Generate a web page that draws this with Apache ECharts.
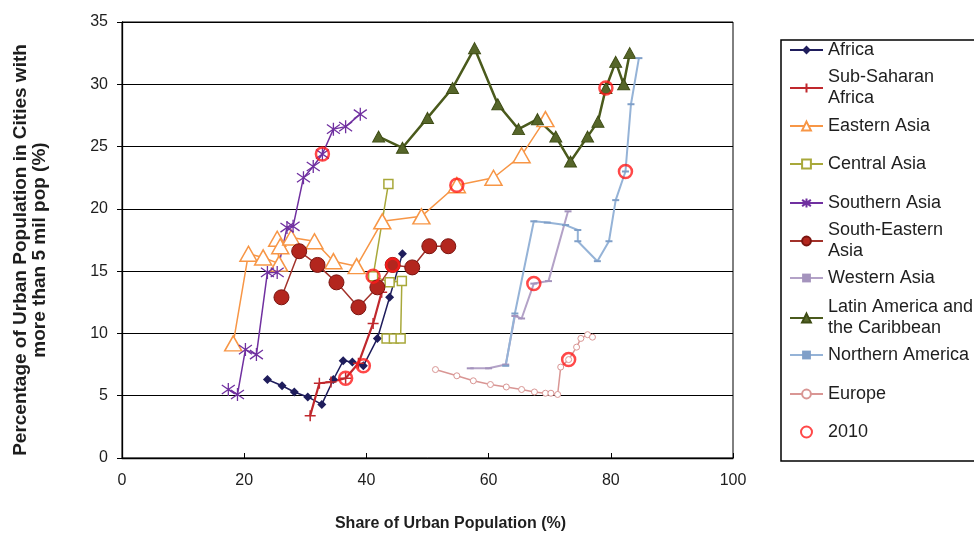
<!DOCTYPE html>
<html>
<head>
<meta charset="utf-8">
<script src="https://cdn.jsdelivr.net/npm/echarts@6/dist/echarts.min.js"></script>
<style>
  html, body { margin: 0; padding: 0; background: #ffffff; }
  #chart { width: 974px; height: 534px; }
</style>
</head>
<body>
<div id="chart"></div>
<script>
// [share of urban population %, % of urban population in cities of 5 million+]
const africa = [[23.8,6.3],[26.2,5.8],[28.2,5.3],[30.4,4.9],[32.7,4.3],[34.6,6.3],[36.2,7.8],[37.7,7.7],[39.5,7.4],[41.8,9.6],[43.8,12.9],[45.9,16.4]];
const subSaharanAfrica = [[30.8,3.4],[32.3,6.0],[34.2,6.1],[36.6,6.4],[38.7,7.6],[41.1,10.8],[42.5,13.3]];
const easternAsia = [[18.2,9.2],[20.7,16.4],[23.1,16.1],[25.7,15.6],[25.4,17.6],[25.9,17.0],[27.7,17.7],[31.5,17.4],[34.6,15.8],[38.4,15.4],[42.6,19.0],[49.0,19.4],[54.8,21.9],[60.8,22.5],[65.4,24.3],[69.3,27.2]];
const centralAsia = [[43.3,9.6],[44.5,9.6],[45.6,9.6],[45.8,14.2],[43.8,14.1],[41.1,14.6],[43.6,22.0]];
const southernAsia = [[17.4,5.5],[18.9,5.1],[20.2,8.7],[22.0,8.3],[23.8,14.9],[25.4,14.9],[27.0,18.5],[28.0,18.6],[29.7,22.5],[31.3,23.4],[32.8,24.4],[34.6,26.4],[36.6,26.6],[39.0,27.6]];
const southEasternAsia = [[26.1,12.9],[29.0,16.6],[32.0,15.5],[35.1,14.1],[38.7,12.1],[41.8,13.7],[44.3,15.5],[47.5,15.3],[50.3,17.0],[53.4,17.0]];
const westernAsia = [[57.0,7.2],[60.0,7.2],[62.8,7.5],[64.3,11.4],[65.4,11.2],[67.4,14.0],[69.8,14.2],[73.0,19.8]];
const latinAmerica = [[42.0,25.8],[45.9,24.9],[50.0,27.3],[54.1,29.7],[57.7,32.9],[61.5,28.4],[64.9,26.4],[68.0,27.2],[71.0,25.8],[73.4,23.8],[76.2,25.8],[77.9,27.0],[79.2,29.7],[80.8,31.8],[82.1,30.0],[83.1,32.5]];
const northernAmerica = [[62.8,7.4],[64.3,11.6],[67.4,19.0],[69.6,18.9],[72.6,18.7],[74.6,18.3],[74.6,17.4],[77.8,15.8],[79.7,17.4],[80.8,20.7],[82.4,23.0],[83.3,28.4],[84.6,32.1]];
const europe = [[51.3,7.1],[54.8,6.6],[57.5,6.2],[60.3,5.9],[62.9,5.7],[65.4,5.5],[67.5,5.3],[69.3,5.2],[70.2,5.2],[71.3,5.1],[71.8,7.3],[73.1,7.9],[74.4,8.9],[75.1,9.6],[76.2,9.9],[77.0,9.7]];

// position of the 2010 observation within each regional series
const index2010 = {
  'Africa': 8, 'Sub-Saharan Africa': 3, 'Eastern Asia': 12, 'Central Asia': 5,
  'Southern Asia': 10, 'South-Eastern Asia': 6, 'Western Asia': 5,
  'Latin America and the Caribbean': 12, 'Northern America': 10, 'Europe': 11
};

const xAxisRange = { min: 0, max: 100, step: 20 };
const yAxisRange = { min: 0, max: 35, step: 5 };

const FONT = '"Liberation Sans", Arial, sans-serif';
const PLUS = 'path://M5,0L5,10M0,5L10,5';
const ASTERISK = 'path://M5,0L5,10M0.8,1.5L9.2,8.5M0.8,8.5L9.2,1.5';

const regions = [
  { name: 'Africa', data: africa, color: '#1f1d5c', width: 1.5,
    symbol: 'diamond', size: 9, item: { color: '#1f1d5c' } },
  { name: 'Sub-Saharan Africa', data: subSaharanAfrica, color: '#c0282d', width: 2.2,
    symbol: PLUS, size: 11, item: { color: 'transparent', borderColor: '#c0282d', borderWidth: 1.5 } },
  { name: 'Eastern Asia', data: easternAsia, color: '#f79646', width: 1.5,
    symbol: 'triangle', size: [17, 15], item: { color: '#ffffff', borderColor: '#f79646', borderWidth: 1.5 } },
  { name: 'Central Asia', data: centralAsia, color: '#a8a83a', width: 1.5,
    symbol: 'rect', size: 9, item: { color: '#ffffff', borderColor: '#a8a83a', borderWidth: 1.5 } },
  { name: 'Southern Asia', data: southernAsia, color: '#7030a0', width: 1.5,
    symbol: ASTERISK, size: 13, item: { color: 'transparent', borderColor: '#7030a0', borderWidth: 1.3 } },
  { name: 'South-Eastern Asia', data: southEasternAsia, color: '#a2312a', width: 1.5,
    symbol: 'circle', size: 15, item: { color: '#b3261e', borderColor: '#7a1410', borderWidth: 1 } },
  { name: 'Western Asia', data: westernAsia, color: '#b3a2c7', width: 2,
    symbol: 'rect', size: [7, 2], item: { color: '#a493bd' } },
  { name: 'Latin America and the Caribbean', data: latinAmerica, color: '#4a5a1c', width: 2.5,
    symbol: 'triangle', size: [12, 11], item: { color: '#56662a', borderColor: '#3e4c14', borderWidth: 1 } },
  { name: 'Northern America', data: northernAmerica, color: '#95b3d7', width: 2,
    symbol: 'rect', size: [7, 2], item: { color: '#7f9fc8' } },
  { name: 'Europe', data: europe, color: '#d99694', width: 1.5,
    symbol: 'circle', size: 6, item: { color: '#ffffff', borderColor: '#d99694', borderWidth: 1 } }
];

const legendLabels = {
  'Sub-Saharan Africa': 'Sub-Saharan\nAfrica',
  'South-Eastern Asia': 'South-Eastern\nAsia',
  'Latin America and the Caribbean': 'Latin America and\nthe Caribbean'
};

const series = regions.map(r => ({
  name: r.name,
  type: 'line',
  data: r.data,
  symbol: r.symbol,
  symbolSize: r.size,
  showAllSymbol: true,
  lineStyle: { color: r.color, width: r.width },
  itemStyle: Object.assign({}, r.item),
  emphasis: { disabled: true },
  z: 2
}));

series.push({
  name: '2010',
  type: 'scatter',
  data: regions.map(r => r.data[index2010[r.name]]),
  symbol: 'circle',
  symbolSize: 13,
  itemStyle: { color: 'transparent', borderColor: '#ff1a1a', borderWidth: 2.5 },
  emphasis: { disabled: true },
  z: 5
});

// one legend block per entry so that wrapped names hang below their first line
const LINE_H = 21;
const legendRowY = [50, 88, 126, 164, 203, 241, 278, 318, 355, 394, 432];
const legendNames = regions.map(r => r.name).concat(['2010']);
const legends = legendNames.map((name, i) => {
  const label = legendLabels[name] || name;
  const twoLines = label.indexOf('\n') >= 0;
  const half = twoLines ? LINE_H * 1.5 : LINE_H / 2;
  return {
    data: [name],
    left: name === '2010' ? 800 : 789,
    top: legendRowY[i] - half,
    padding: 0,
    itemWidth: 33,
    itemHeight: 11,
    selectedMode: false,
    formatter: () => label,
    textStyle: {
      fontFamily: FONT, fontSize: 18, color: '#1e1e1e', lineHeight: LINE_H,
      padding: twoLines ? [LINE_H, 0, 0, 0] : 0
    }
  };
});

const chart = echarts.init(document.getElementById('chart'), null, { renderer: 'canvas' });
chart.setOption({
  animation: false,
  backgroundColor: '#ffffff',
  grid: { left: 122, top: 22, right: 241, bottom: 76, outerBoundsMode: 'none', containLabel: false,
    show: true, borderColor: '#000', borderWidth: 1, backgroundColor: 'transparent' },
  xAxis: {
    type: 'value', min: xAxisRange.min, max: xAxisRange.max, interval: xAxisRange.step,
    name: 'Share of Urban Population (%)', nameLocation: 'middle', nameGap: 58,
    nameTextStyle: { fontFamily: FONT, fontSize: 16, fontWeight: 'bold', color: '#1e1e1e', padding: [0, 0, 0, 46] },
    axisLine: { lineStyle: { color: '#000', width: 1.3 } },
    axisTick: { inside: true, length: 5, lineStyle: { color: '#000' } },
    axisLabel: { margin: 15, fontFamily: FONT, fontSize: 16, color: '#1e1e1e' },
    splitLine: { show: false }
  },
  yAxis: {
    type: 'value', min: yAxisRange.min, max: yAxisRange.max, interval: yAxisRange.step,
    axisLine: { show: true, lineStyle: { color: '#000', width: 1.3 } },
    axisTick: { show: true, inside: false, length: 5, lineStyle: { color: '#000' } },
    axisLabel: { margin: 14, fontFamily: FONT, fontSize: 16, color: '#1e1e1e' },
    splitLine: { show: true, lineStyle: { color: '#000', width: 1.2 } }
  },
  legend: legends,
  graphic: [
    { type: 'rect', shape: { x: 781, y: 40, width: 260, height: 421 },
      style: { fill: 'none', stroke: '#000', lineWidth: 1.5 }, silent: true },
    { type: 'text', x: 30, y: 250, rotation: Math.PI / 2, silent: true,
      style: { text: 'Percentage of Urban Population in Cities with\nmore than 5 mil pop (%)',
        font: 'bold 19px ' + FONT, fill: '#1e1e1e', align: 'center', verticalAlign: 'middle',
        textAlign: 'center', textVerticalAlign: 'middle', lineHeight: 19 } }
  ],
  series: series
});
</script>
</body>
</html>
